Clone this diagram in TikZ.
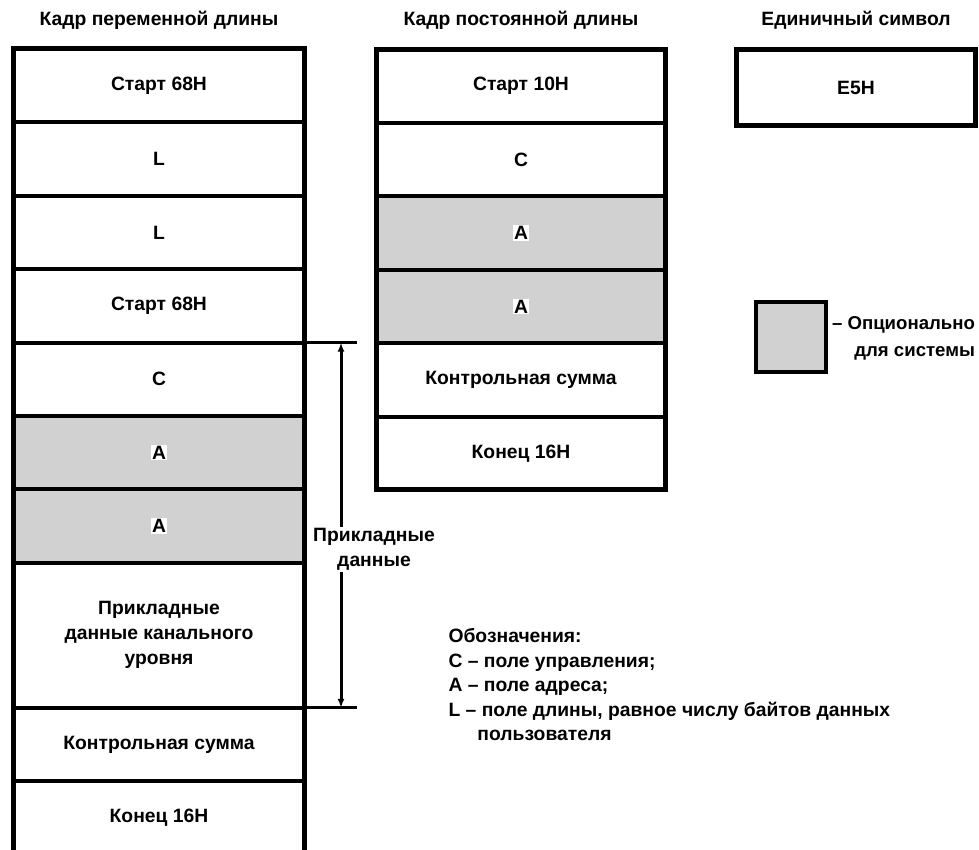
\documentclass[tikz,border=0pt]{standalone}
\usepackage{fontspec}
\setmainfont{Liberation Sans}
\usetikzlibrary{arrows.meta, positioning}

\tikzset{
  field/.style={draw=black, line width=4pt, fill=white,
                minimum width=291pt, minimum height=73.4pt,
                inner sep=0pt, outer sep=0pt, align=center},
  optfield/.style={field, fill=black!18},
  frame/.style={draw=black, line width=5pt},
  extline/.style={draw=black, line width=3pt},
  dimline/.style={draw=black, line width=3pt,
                  >={Latex[length=9pt, width=7pt]}, <->},
}
\newcommand{\hlA}{{\setlength{\fboxsep}{1pt}\colorbox{white}{A}}}

\begin{document}
\begin{tikzpicture}[x=1pt, y=-1pt, font=\fontsize{19.3}{25}\selectfont\bfseries]
\useasboundingbox (0,0) rectangle (979,850);
% Headings
\node (hv) at (159,20) {Кадр переменной длины};
\node (hf) at (521,20) {Кадр постоянной длины};
\node (hs) at (856,20) {Единичный символ};
% Variable length frame
\node[field, anchor=north] (v1) at (159,49) {Старт 68H};
\node[field, below=0pt of v1] (v2) {L};
\node[field, below=0pt of v2] (v3) {L};
\node[field, below=0pt of v3] (v4) {Старт 68H};
\node[field, below=0pt of v4] (v5) {C};
\node[optfield, below=0pt of v5] (v6) {\hlA};
\node[optfield, below=0pt of v6] (v7) {\hlA};
\node[field, below=0pt of v7, minimum height=145pt] (v8)
     {Прикладные\\данные канального\\уровня};
\node[field, below=0pt of v8] (v9) {Контрольная сумма};
\node[field, below=0pt of v9] (v10) {Конец 16H};
\draw[frame] (v1.north west) rectangle (v10.south east);
% Dimension for user data
\path (v5.north east) ++(52,0) coordinate (dtop);
\path (v9.north east) ++(52,0) coordinate (dbot);
\draw[extline] (v5.north east) -- (dtop);
\draw[extline] (v9.north east) -- (dbot);
\draw[dimline] ([xshift=36.5pt]v5.north east) -- ([xshift=36.5pt]v9.north east);
\node[fill=white, inner sep=1pt, align=center] (dl) at (374,549.5)
     {Прикладные\\данные};
% Fixed length frame
\node[field, minimum width=289pt, anchor=north] (f1) at (521,49.5) {Старт 10H};
\node[field, minimum width=289pt, below=0pt of f1] (f2) {C};
\node[optfield, minimum width=289pt, below=0pt of f2] (f3) {\hlA};
\node[optfield, minimum width=289pt, below=0pt of f3] (f4) {\hlA};
\node[field, minimum width=289pt, below=0pt of f4] (f5) {Контрольная сумма};
\node[field, minimum width=289pt, below=0pt of f5] (f6) {Конец 16H};
\draw[frame] (f1.north west) rectangle (f6.south east);
% Single character
\node[field, line width=5pt, minimum width=239pt, minimum height=76pt,
      anchor=north] (s1) at (856,50) {E5H};
% Legend
\node[optfield, minimum width=70pt, minimum height=70pt] (lg) at (791,337) {};
\node[anchor=east, align=right, font=\fontsize{18.6}{27}\selectfont\bfseries]
     (lgt) at (978.5,338.5) {– Опционально\\для системы};
\node[anchor=north west, align=left, font=\fontsize{19.3}{24.5}\selectfont\bfseries]
     (nt) at (445,625)
     {Обозначения:\\C – поле управления;\\A – поле адреса;\\
      L – поле длины, равное числу байтов данных\\\hspace*{1.5em}пользователя};
\end{tikzpicture}
\end{document}
